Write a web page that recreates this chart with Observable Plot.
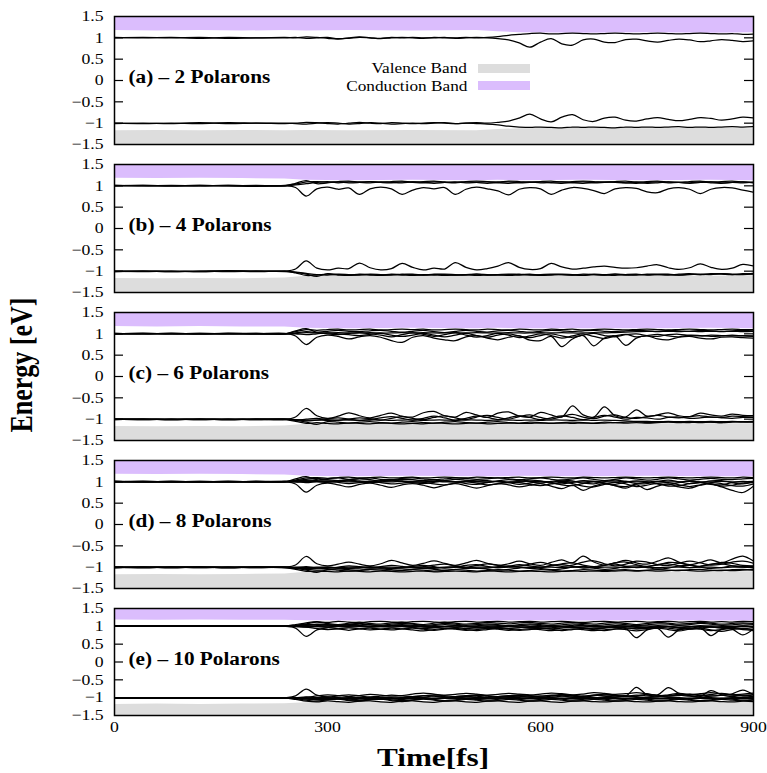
<!DOCTYPE html>
<html><head><meta charset="utf-8">
<script src="https://cdn.jsdelivr.net/npm/d3@7"></script>
<script src="https://cdn.jsdelivr.net/npm/@observablehq/plot@0.6"></script>
<style>
body{margin:0;background:#fff}
#chart{position:relative;width:767px;height:773px;font-family:"Liberation Serif","Times New Roman",serif;color:#000;overflow:hidden}
#chart svg{position:absolute;left:0}
.lbl{position:absolute;white-space:nowrap;line-height:1}
</style>
</head><body><div id="chart"></div>
<script>
// time grid (fs)
const T = [0,40,80,120,160,200,240,
 255,270,285,300,315,330,345,360,375,390,405,
 420,435,450,465,480,495,510,525,540,555,570,
 585,600,615,630,645,660,675,690,705,720,735,
 750,765,780,795,810,825,840,855,870,885,900];
const bandT = [0,60,120,180,240,270,330,420,510,540,570,660,750,840,900];
const yTicks = [-1.5,-1,-0.5,0,0.5,1,1.5];
const innerTicks = [-1,-0.5,0,0.5,1];
const xTicks = [0,300,600,900];
const panelLabels = ["(a) – 2 Polarons","(b) – 4 Polarons","(c) – 6 Polarons","(d) – 8 Polarons","(e) – 10 Polarons"];
const legendLabels = ["Valence Band","Conduction Band"];

// band edges
const cbmA=[1.17,1.16,1.17,1.16,1.17,1.16,1.17,1.16,1.17,1.14,1.12,1.11,1.12,1.11,1.12];
const vbmA=[-1.18,-1.17,-1.18,-1.17,-1.18,-1.17,-1.18,-1.17,-1.18,-1.15,-1.13,-1.12,-1.13,-1.12,-1.13];
const cbmB=[1.18,1.17,1.18,1.17,1.16,1.13,1.12,1.13,1.12,1.13,1.12,1.13,1.12,1.13,1.12];
const vbmB=[-1.17,-1.18,-1.17,-1.18,-1.16,-1.12,-1.11,-1.12,-1.11,-1.12,-1.11,-1.12,-1.11,-1.12,-1.11];
const cbmC=[1.17,1.16,1.17,1.16,1.16,1.13,1.12,1.13,1.12,1.13,1.12,1.12,1.12,1.13,1.12];
const vbmC=[-1.17,-1.18,-1.17,-1.18,-1.16,-1.12,-1.11,-1.11,-1.12,-1.11,-1.11,-1.12,-1.11,-1.11,-1.11];
const cbmD=[1.18,1.17,1.18,1.17,1.16,1.13,1.12,1.13,1.12,1.12,1.13,1.12,1.13,1.12,1.12];
const vbmD=[-1.18,-1.17,-1.18,-1.17,-1.16,-1.12,-1.12,-1.11,-1.12,-1.11,-1.12,-1.11,-1.12,-1.11,-1.11];
const cbmE=[1.18,1.17,1.18,1.17,1.17,1.16,1.15,1.16,1.15,1.15,1.16,1.15,1.16,1.15,1.15];
const vbmE=[-1.19,-1.18,-1.19,-1.18,-1.17,-1.14,-1.13,-1.13,-1.12,-1.13,-1.12,-1.12,-1.12,-1.13,-1.12];

// panel (a)
const a1=[1.01,1.00,1.01,0.99,1.01,1.00,1.01, 1.00,1.02,1.01,0.99,0.97,1.00,1.02,1.00,0.98,1.00,1.01, 1.00,0.99,1.01,1.00,1.00,1.01,1.00,1.01,1.03,1.06,1.08, 1.10,1.11,1.09,1.10,1.11,1.10,1.09,1.10,1.11,1.10,1.09, 1.10,1.11,1.10,1.09,1.10,1.11,1.10,1.09,1.10,1.08,1.09];
const a2=[1.00,1.01,1.00,1.01,0.99,1.00,1.00, 1.01,0.99,1.00,1.01,0.98,0.99,1.01,1.00,0.99,1.01,1.00, 1.01,1.00,1.00,1.01,0.99,1.00,1.01,1.00,0.98,0.95,0.88, 0.78,0.90,0.98,0.86,0.83,0.95,0.97,0.90,0.89,0.96,0.97, 0.93,0.90,0.94,0.97,0.95,0.91,0.93,0.96,0.94,0.91,0.93];
const a3=[-1.01,-1.00,-1.01,-0.99,-1.01,-1.00,-1.01, -1.00,-0.98,-0.99,-1.01,-1.02,-1.00,-0.98,-1.00,-1.01,-0.99,-1.00, -1.01,-1.00,-0.99,-1.00,-1.01,-1.00,-0.99,-1.00,-0.98,-0.95,-0.88, -0.79,-0.90,-0.97,-0.86,-0.80,-0.92,-0.96,-0.88,-0.86,-0.93,-0.95, -0.90,-0.87,-0.91,-0.94,-0.91,-0.87,-0.89,-0.93,-0.90,-0.86,-0.88];
const a4=[-1.00,-1.01,-1.00,-1.01,-0.99,-1.00,-1.00, -1.01,-1.02,-1.00,-0.99,-1.00,-1.02,-1.01,-0.99,-1.00,-1.02,-1.01, -1.00,-1.01,-1.00,-0.99,-1.01,-1.00,-1.01,-1.02,-1.04,-1.07,-1.09, -1.10,-1.09,-1.10,-1.11,-1.09,-1.10,-1.09,-1.10,-1.11,-1.09,-1.10, -1.09,-1.10,-1.09,-1.08,-1.10,-1.09,-1.10,-1.09,-1.08,-1.09,-1.08];

// panel (b)
const b1=[1.01,1.00,1.01,1.00,1.01,1.00,1.01, 1.04,1.09,1.10,1.08,1.10,1.11,1.09,1.10,1.08,1.10,1.11, 1.09,1.10,1.11,1.09,1.08,1.10,1.11,1.10,1.09,1.11,1.10, 1.08,1.10,1.11,1.09,1.10,1.11,1.10,1.08,1.10,1.11,1.09, 1.10,1.11,1.09,1.08,1.10,1.11,1.09,1.10,1.11,1.09,1.08];
const b2=[1.00,1.01,1.00,1.00,1.01,1.00,1.00, 1.06,1.12,1.05,1.07,1.09,1.07,1.08,1.10,1.08,1.07,1.09, 1.08,1.07,1.09,1.08,1.07,1.09,1.08,1.06,1.08,1.09,1.07, 1.08,1.09,1.07,1.06,1.08,1.09,1.07,1.08,1.09,1.07,1.06, 1.08,1.09,1.07,1.08,1.06,1.08,1.09,1.07,1.08,1.09,1.07];
const b3=[1.01,1.00,1.00,1.01,1.00,1.01,1.00, 1.02,1.05,1.08,1.10,1.07,1.09,1.08,1.07,1.09,1.08,1.07, 1.09,1.08,1.06,1.08,1.09,1.07,1.08,1.09,1.07,1.06,1.08, 1.09,1.07,1.08,1.09,1.07,1.06,1.08,1.09,1.08,1.07,1.08, 1.06,1.07,1.09,1.08,1.07,1.09,1.07,1.06,1.08,1.07,1.09];
const b4=[1.00,1.01,1.00,1.01,1.00,0.99,1.00, 0.96,0.76,0.93,0.97,0.92,0.95,0.80,0.93,0.97,0.93,0.80, 0.90,0.96,0.93,0.96,0.80,0.92,0.97,0.93,0.88,0.79,0.92, 0.96,0.93,0.80,0.90,0.96,0.94,0.89,0.82,0.93,0.96,0.94, 0.86,0.84,0.93,0.96,0.92,0.82,0.92,0.96,0.95,0.90,0.85];
const b5=[-1.01,-1.00,-1.01,-1.00,-0.99,-1.00,-1.00, -0.95,-0.76,-0.93,-0.97,-0.93,-0.94,-0.81,-0.92,-0.97,-0.94,-0.82, -0.91,-0.97,-0.93,-0.95,-0.80,-0.91,-0.97,-0.94,-0.88,-0.80,-0.91, -0.96,-0.94,-0.82,-0.90,-0.95,-0.93,-0.90,-0.88,-0.91,-0.93,-0.92, -0.88,-0.85,-0.92,-0.96,-0.92,-0.83,-0.91,-0.96,-0.93,-0.84,-0.88];
const b6=[-1.00,-1.01,-1.00,-1.01,-1.00,-1.01,-1.00, -1.04,-1.10,-1.09,-1.07,-1.09,-1.10,-1.08,-1.09,-1.10,-1.08,-1.09, -1.10,-1.08,-1.09,-1.10,-1.09,-1.08,-1.10,-1.09,-1.08,-1.10,-1.09, -1.08,-1.10,-1.09,-1.08,-1.09,-1.10,-1.08,-1.09,-1.10,-1.08,-1.07, -1.09,-1.08,-1.07,-1.09,-1.08,-1.07,-1.08,-1.06,-1.07,-1.08,-1.06];
const b7=[-1.01,-1.00,-1.00,-1.01,-1.00,-1.00,-1.01, -1.03,-1.07,-1.12,-1.06,-1.08,-1.09,-1.07,-1.08,-1.09,-1.07,-1.08, -1.07,-1.09,-1.08,-1.07,-1.08,-1.09,-1.07,-1.08,-1.09,-1.08,-1.07, -1.09,-1.08,-1.07,-1.08,-1.09,-1.07,-1.08,-1.09,-1.07,-1.08,-1.09, -1.07,-1.08,-1.09,-1.07,-1.06,-1.08,-1.07,-1.06,-1.08,-1.07,-1.05];
const b8=[-1.00,-1.00,-1.01,-1.00,-1.01,-1.00,-1.00, -1.02,-1.05,-1.08,-1.09,-1.07,-1.08,-1.09,-1.07,-1.08,-1.09,-1.07, -1.08,-1.09,-1.07,-1.08,-1.09,-1.08,-1.07,-1.09,-1.08,-1.07,-1.08, -1.07,-1.09,-1.08,-1.07,-1.08,-1.09,-1.07,-1.08,-1.07,-1.09,-1.08, -1.08,-1.07,-1.08,-1.09,-1.07,-1.08,-1.06,-1.07,-1.08,-1.06,-1.07];

// panel (c)
const c1=[1.01,1.00,1.01,1.00,1.01,1.01,1.00, 1.05,1.10,1.08,1.10,1.11,1.09,1.10,1.11,1.09,1.10,1.11, 1.10,1.11,1.09,1.10,1.11,1.10,1.09,1.11,1.10,1.09,1.11, 1.10,1.09,1.11,1.10,1.11,1.09,1.10,1.11,1.10,1.09,1.10, 1.11,1.10,1.09,1.10,1.11,1.10,1.09,1.10,1.11,1.10,1.10];
const c2=[1.00,1.01,1.00,1.01,1.00,1.00,1.00, 1.07,1.12,1.04,1.06,1.08,1.06,1.05,1.07,1.08,1.06,1.04, 1.06,1.08,1.05,1.03,1.06,1.08,1.06,1.04,1.07,1.08,1.06, 1.04,1.06,1.08,1.07,1.05,1.07,1.08,1.06,1.05,1.07,1.08, 1.07,1.06,1.08,1.07,1.06,1.08,1.07,1.06,1.07,1.08,1.07];
const c3=[1.00,1.01,1.00,1.00,1.01,1.00,1.00, 1.01,1.03,1.02,1.02,1.03,1.02,1.02,1.03,1.02,1.02,1.03, 1.02,1.03,1.02,1.02,1.03,1.02,1.03,1.02,1.02,1.03,1.02, 1.02,1.03,1.02,1.03,1.02,1.02,1.03,1.02,1.03,1.04,1.05, 1.06,1.05,1.06,1.05,1.06,1.05,1.06,1.05,1.06,1.05,1.06];
const c4=[1.01,1.00,1.01,1.00,1.01,1.00,1.00, 1.02,1.05,1.03,1.00,0.98,1.01,1.03,1.00,0.97,0.93,0.98, 1.02,0.99,0.94,0.98,1.02,0.97,0.92,0.96,1.01,0.97,0.91, 0.95,1.00,0.96,0.90,0.95,1.00,0.94,0.89,0.95,0.99,0.93, 0.96,0.99,0.95,0.93,0.97,0.96,0.94,0.95,0.97,0.95,0.94];
const c5=[1.00,1.00,1.01,1.00,1.00,1.01,1.00, 1.00,0.98,1.00,1.02,1.00,0.98,0.96,0.99,1.01,0.97,0.94, 0.97,1.01,0.97,0.93,0.97,1.01,0.96,0.92,0.97,1.00,0.95, 0.91,0.96,1.00,0.95,0.92,0.97,1.01,0.96,0.93,0.98,1.00, 0.96,0.94,0.98,0.99,0.96,0.95,0.97,0.96,0.95,0.96,0.95];
const c6=[1.00,1.01,1.00,1.01,1.00,1.00,1.01, 0.95,0.75,0.92,0.97,0.94,0.88,0.93,0.96,0.92,0.84,0.80, 0.92,0.96,0.90,0.86,0.84,0.93,0.96,0.90,0.86,0.92,0.95, 0.85,0.84,0.94,0.70,0.88,0.96,0.72,0.90,0.95,0.73,0.90, 0.95,0.88,0.86,0.92,0.94,0.90,0.88,0.92,0.93,0.91,0.90];
const c7=[-1.00,-1.01,-1.00,-1.01,-1.00,-1.00,-1.01, -0.95,-0.75,-0.92,-0.98,-0.93,-0.85,-0.92,-0.97,-0.91,-0.86,-0.93, -0.95,-0.85,-0.82,-0.92,-0.95,-0.84,-0.90,-0.96,-0.86,-0.83,-0.93, -0.95,-0.84,-0.90,-0.95,-0.69,-0.90,-0.95,-0.71,-0.92,-0.95,-0.78, -0.93,-0.90,-0.85,-0.92,-0.94,-0.86,-0.90,-0.93,-0.88,-0.91,-0.92];
const c8=[-1.01,-1.00,-1.01,-1.00,-1.01,-1.00,-1.00, -1.02,-1.00,-0.98,-1.01,-1.03,-1.00,-0.97,-0.99,-1.02,-0.98,-0.94, -0.98,-1.01,-0.96,-0.92,-0.97,-1.01,-0.95,-0.91,-0.96,-1.00,-0.94, -0.90,-0.96,-1.00,-0.94,-0.89,-0.95,-0.99,-0.93,-0.90,-0.96,-0.98, -0.94,-0.91,-0.95,-0.97,-0.94,-0.92,-0.95,-0.96,-0.93,-0.94,-0.95];
const c9=[-1.00,-1.00,-1.01,-1.00,-1.00,-1.01,-1.00, -1.01,-1.04,-1.02,-0.99,-0.97,-1.00,-1.03,-1.01,-0.97,-0.94,-0.98, -1.02,-0.98,-0.93,-0.97,-1.02,-0.98,-0.93,-0.96,-1.01,-0.97,-0.92, -0.96,-1.01,-0.97,-0.92,-0.96,-1.01,-0.96,-0.91,-0.95,-1.00,-0.96, -0.97,-1.00,-0.96,-0.95,-0.98,-0.97,-0.95,-0.97,-0.98,-0.96,-0.96];
const c10=[-1.00,-1.01,-1.00,-1.00,-1.01,-1.00,-1.00, -1.01,-1.02,-1.02,-1.03,-1.02,-1.02,-1.03,-1.02,-1.02,-1.03,-1.02, -1.02,-1.03,-1.02,-1.02,-1.03,-1.02,-1.02,-1.03,-1.02,-1.02,-1.03, -1.02,-1.03,-1.02,-1.02,-1.03,-1.02,-1.03,-1.02,-1.03,-1.04,-1.05, -1.05,-1.06,-1.05,-1.06,-1.05,-1.06,-1.05,-1.06,-1.05,-1.06,-1.05];
const c11=[-1.01,-1.00,-1.01,-1.00,-1.01,-1.00,-1.01, -1.05,-1.10,-1.08,-1.10,-1.11,-1.09,-1.10,-1.11,-1.09,-1.10,-1.11, -1.10,-1.11,-1.09,-1.10,-1.11,-1.10,-1.09,-1.11,-1.10,-1.09,-1.10, -1.10,-1.09,-1.10,-1.09,-1.10,-1.09,-1.10,-1.09,-1.08,-1.09,-1.08, -1.09,-1.08,-1.07,-1.08,-1.07,-1.08,-1.07,-1.08,-1.07,-1.06,-1.07];
const c12=[-1.00,-1.00,-1.00,-1.01,-1.00,-1.01,-1.00, -1.03,-1.07,-1.12,-1.06,-1.07,-1.09,-1.07,-1.06,-1.08,-1.09,-1.07, -1.06,-1.08,-1.09,-1.07,-1.06,-1.08,-1.09,-1.07,-1.06,-1.08,-1.09, -1.07,-1.08,-1.09,-1.08,-1.07,-1.08,-1.09,-1.07,-1.08,-1.07,-1.06, -1.08,-1.07,-1.06,-1.07,-1.08,-1.06,-1.07,-1.08,-1.06,-1.07,-1.06];

// panel (d)
const d1=[1.01,1.00,1.01,1.00,1.00,1.01,1.00, 1.04,1.09,1.10,1.08,1.10,1.11,1.09,1.10,1.11,1.09,1.10, 1.11,1.09,1.10,1.11,1.10,1.09,1.11,1.10,1.09,1.10,1.11, 1.09,1.10,1.11,1.10,1.09,1.11,1.10,1.09,1.10,1.11,1.10, 1.09,1.10,1.11,1.10,1.09,1.10,1.11,1.10,1.09,1.11,1.10];
const d2=[1.00,1.01,1.00,1.00,1.01,1.00,1.00, 1.07,1.12,1.05,1.07,1.09,1.06,1.08,1.09,1.06,1.05,1.08, 1.09,1.07,1.05,1.07,1.09,1.08,1.06,1.07,1.09,1.07,1.05, 1.07,1.09,1.06,1.04,1.07,1.09,1.06,1.03,1.06,1.09,1.07, 1.04,1.06,1.09,1.07,1.04,1.06,1.08,1.06,1.05,1.07,1.08];
const d3=[1.01,1.00,1.00,1.01,1.00,1.00,1.01, 1.00,1.01,1.00,1.00,1.01,1.00,1.00,1.01,1.00,1.00,1.01, 1.00,1.00,1.01,1.00,1.00,1.01,1.00,1.00,1.01,1.00,1.00, 1.01,1.00,1.00,1.01,1.00,1.00,1.01,1.00,1.00,1.01,1.00, 1.00,1.01,1.00,1.00,1.01,1.00,1.00,1.01,1.00,1.00,1.01];
const d4=[1.00,1.00,1.01,1.00,1.01,1.00,1.00, 1.02,1.04,1.03,1.01,1.03,1.04,1.02,1.01,1.03,1.04,1.02, 1.01,1.03,1.04,1.02,1.00,1.02,1.04,1.03,1.00,0.98,1.01, 1.04,1.02,0.97,0.95,0.99,1.03,1.01,0.96,0.94,0.99,1.02, 1.00,0.95,0.93,0.98,1.02,0.99,0.94,0.93,0.98,1.01,0.99];
const d5=[1.00,1.01,1.00,1.01,1.00,1.01,1.00, 0.95,0.76,0.92,0.97,0.93,0.88,0.94,0.97,0.92,0.87,0.93, 0.96,0.92,0.86,0.92,0.96,0.91,0.85,0.91,0.96,0.93,0.88, 0.92,0.96,0.90,0.84,0.92,0.80,0.90,0.96,0.91,0.85,0.93, 0.82,0.90,0.95,0.88,0.85,0.92,0.95,0.88,0.80,0.75,0.90];
const d6=[1.01,1.00,1.00,1.00,1.01,1.00,1.01, 1.00,0.98,1.01,1.02,0.99,0.96,0.98,1.01,0.98,0.95,0.97, 1.00,0.99,0.95,0.93,0.97,1.00,0.97,0.93,0.95,0.99,0.98, 0.94,0.91,0.95,0.99,0.96,0.90,0.88,0.94,0.99,0.95,0.89, 0.92,0.97,0.98,0.93,0.89,0.93,0.98,0.96,0.91,0.90,0.95];
const d7=[1.00,1.01,1.00,1.00,1.00,1.01,1.00, 1.01,1.03,1.01,0.99,1.01,1.02,1.00,0.98,1.00,1.02,1.01, 0.98,0.96,0.99,1.02,1.00,0.96,0.94,0.98,1.01,0.98,0.94, 0.97,1.01,0.99,0.93,0.91,0.96,1.00,0.97,0.91,0.89,0.95, 0.99,0.96,0.90,0.91,0.96,0.99,0.95,0.90,0.92,0.97,0.98];
const d8=[1.01,1.00,1.01,1.00,1.00,1.00,1.01, 1.03,1.06,1.08,1.05,1.03,1.05,1.07,1.05,1.02,1.04,1.06, 1.05,1.02,1.00,1.03,1.06,1.04,1.01,0.99,1.02,1.05,1.03, 1.00,0.97,1.01,1.04,1.02,0.97,0.95,1.00,1.04,1.01,0.96, 0.96,1.01,1.04,1.00,0.96,0.98,1.02,1.03,0.98,0.95,1.00];
const d9=[-1.01,-1.00,-1.01,-1.00,-1.01,-1.00,-1.00, -0.95,-0.75,-0.92,-0.97,-0.93,-0.88,-0.93,-0.97,-0.92,-0.84,-0.90, -0.96,-0.91,-0.85,-0.91,-0.96,-0.90,-0.84,-0.91,-0.96,-0.92,-0.86, -0.92,-0.96,-0.89,-0.83,-0.90,-0.74,-0.88,-0.95,-0.90,-0.84,-0.90, -0.93,-0.86,-0.78,-0.88,-0.94,-0.89,-0.83,-0.90,-0.81,-0.74,-0.86];
const d10=[-1.00,-1.01,-1.00,-1.00,-1.01,-1.00,-1.00, -1.01,-0.99,-1.02,-1.03,-1.00,-0.97,-0.99,-1.02,-0.99,-0.96,-0.98, -1.01,-0.99,-0.95,-0.93,-0.97,-1.00,-0.96,-0.92,-0.95,-0.99,-0.97, -0.93,-0.89,-0.94,-0.98,-0.95,-0.88,-0.85,-0.92,-0.97,-0.93,-0.86, -0.88,-0.94,-0.96,-0.91,-0.86,-0.90,-0.95,-0.93,-0.88,-0.86,-0.91];
const d11=[-1.01,-1.00,-1.00,-1.01,-1.00,-1.00,-1.01, -1.02,-1.04,-1.02,-1.00,-1.02,-1.03,-1.01,-0.99,-1.01,-1.03,-1.01, -0.98,-0.96,-0.99,-1.02,-1.00,-0.96,-0.94,-0.98,-1.01,-0.98,-0.94, -0.97,-1.00,-0.97,-0.92,-0.90,-0.95,-0.99,-0.96,-0.90,-0.88,-0.94, -0.98,-0.95,-0.89,-0.90,-0.95,-0.98,-0.94,-0.89,-0.91,-0.96,-0.97];
const d12=[-1.00,-1.00,-1.01,-1.00,-1.00,-1.01,-1.00, -1.00,-1.01,-1.00,-1.00,-1.01,-1.00,-1.00,-1.01,-1.00,-1.00,-1.01, -1.00,-1.00,-1.01,-1.00,-1.00,-1.01,-1.00,-1.00,-1.01,-1.00,-1.00, -1.01,-1.00,-1.00,-1.01,-1.00,-1.00,-1.01,-1.00,-1.00,-1.01,-1.00, -1.00,-1.01,-1.00,-1.00,-1.01,-1.00,-1.00,-1.01,-1.00,-1.00,-1.01];
const d13=[-1.00,-1.01,-1.00,-1.01,-1.00,-1.00,-1.00, -1.02,-1.03,-1.02,-1.01,-1.02,-1.03,-1.02,-1.01,-1.02,-1.03,-1.02, -1.01,-1.02,-1.03,-1.01,-0.99,-1.01,-1.03,-1.02,-0.99,-0.97,-1.00, -1.03,-1.01,-0.96,-0.94,-0.98,-1.02,-1.00,-0.95,-0.93,-0.98,-1.01, -0.99,-0.94,-0.92,-0.97,-1.01,-0.98,-0.93,-0.92,-0.97,-1.00,-0.98];
const d14=[-1.01,-1.00,-1.01,-1.00,-1.01,-1.00,-1.01, -1.05,-1.10,-1.09,-1.10,-1.11,-1.09,-1.10,-1.11,-1.09,-1.10,-1.11, -1.10,-1.09,-1.11,-1.10,-1.09,-1.10,-1.11,-1.09,-1.10,-1.11,-1.10, -1.09,-1.10,-1.11,-1.10,-1.09,-1.10,-1.09,-1.10,-1.09,-1.08,-1.09, -1.08,-1.09,-1.08,-1.07,-1.08,-1.09,-1.08,-1.07,-1.08,-1.07,-1.06];
const d15=[-1.00,-1.01,-1.00,-1.00,-1.00,-1.01,-1.00, -1.03,-1.07,-1.12,-1.06,-1.07,-1.09,-1.08,-1.06,-1.07,-1.09,-1.08, -1.06,-1.07,-1.09,-1.08,-1.06,-1.07,-1.09,-1.08,-1.06,-1.07,-1.09, -1.08,-1.06,-1.07,-1.09,-1.08,-1.06,-1.07,-1.08,-1.07,-1.06,-1.08, -1.07,-1.06,-1.07,-1.08,-1.06,-1.05,-1.07,-1.08,-1.06,-1.05,-1.07];
const d16=[-1.01,-1.00,-1.00,-1.00,-1.01,-1.00,-1.01, -1.02,-1.05,-1.07,-1.06,-1.04,-1.06,-1.07,-1.05,-1.04,-1.06,-1.07, -1.05,-1.03,-1.05,-1.07,-1.05,-1.03,-1.02,-1.05,-1.07,-1.05,-1.02, -1.00,-1.03,-1.06,-1.04,-1.00,-0.98,-1.02,-1.05,-1.03,-0.98,-0.97, -1.01,-1.04,-1.02,-0.97,-0.96,-1.00,-1.03,-1.01,-0.97,-0.98,-1.02];

// panel (e)
const e1=[1.00,1.01,1.00,1.01,1.00,1.00,1.01, 1.05,1.10,1.13,1.11,1.14,1.12,1.10,1.13,1.14,1.12,1.11, 1.13,1.14,1.12,1.11,1.13,1.14,1.12,1.13,1.14,1.12,1.13, 1.14,1.12,1.13,1.14,1.12,1.11,1.13,1.14,1.12,1.13,1.14, 1.12,1.13,1.14,1.12,1.13,1.14,1.12,1.13,1.12,1.14,1.13];
const e2=[1.01,1.00,1.00,1.01,1.00,1.01,1.00, 1.03,1.07,1.12,1.08,1.05,1.09,1.12,1.08,1.06,1.10,1.12, 1.08,1.05,1.09,1.12,1.09,1.06,1.08,1.11,1.09,1.07,1.10, 1.11,1.08,1.06,1.09,1.11,1.08,1.06,1.09,1.11,1.08,1.05, 1.08,1.11,1.09,1.06,1.08,1.11,1.09,1.06,1.08,1.10,1.08];
const e3=[1.00,1.00,1.01,1.00,1.01,1.00,1.00, 1.02,1.04,1.06,1.05,1.03,1.06,1.08,1.05,1.03,1.06,1.08, 1.06,1.03,1.05,1.08,1.06,1.03,1.05,1.07,1.05,1.02,1.05, 1.07,1.05,1.02,1.04,1.07,1.05,1.02,1.04,1.07,1.05,1.02, 1.04,1.07,1.06,1.03,1.05,1.08,1.06,1.03,1.04,1.07,1.05];
const e4=[1.00,1.01,1.00,1.00,1.01,1.00,1.00, 1.01,1.00,1.00,1.01,1.00,1.00,1.01,1.00,1.00,1.01,1.00, 1.00,1.01,1.00,1.00,1.01,1.00,1.00,1.01,1.00,1.00,1.01, 1.00,1.00,1.01,1.00,1.00,1.01,1.00,1.00,1.01,1.00,1.00, 1.01,1.00,1.00,1.01,1.00,1.00,1.01,1.00,1.00,1.01,1.00];
const e5=[1.01,1.00,1.00,1.00,1.00,1.01,1.00, 0.99,0.98,0.99,0.98,0.99,0.98,0.99,0.98,0.99,0.98,0.99, 0.98,0.99,0.98,0.99,0.98,0.99,0.98,0.97,0.98,0.99,0.98, 0.97,0.98,0.99,0.98,0.97,0.98,0.99,0.98,0.97,0.99,0.98, 0.97,0.98,0.99,0.97,0.98,0.99,0.98,0.97,0.98,0.99,0.98];
const e6=[1.00,1.01,1.00,1.01,1.00,1.00,1.00, 0.95,0.72,0.90,0.96,0.93,0.89,0.93,0.95,0.92,0.90,0.93, 0.95,0.92,0.89,0.92,0.94,0.91,0.88,0.91,0.94,0.92,0.89, 0.91,0.94,0.92,0.88,0.91,0.94,0.91,0.88,0.92,0.94,0.68, 0.90,0.95,0.91,0.87,0.92,0.95,0.90,0.86,0.91,0.94,0.90];
const e7=[1.01,1.00,1.01,1.00,1.00,1.00,1.01, 1.00,0.98,0.94,0.91,0.93,0.96,0.93,0.90,0.92,0.95,0.93, 0.90,0.87,0.91,0.94,0.92,0.89,0.91,0.94,0.92,0.89,0.91, 0.93,0.91,0.88,0.90,0.93,0.91,0.88,0.90,0.93,0.91,0.87, 0.91,0.94,0.70,0.90,0.95,0.92,0.88,0.91,0.94,0.91,0.88];
const e8=[1.00,1.00,1.01,1.00,1.01,1.00,1.00, 1.01,1.02,1.00,0.98,1.00,1.02,1.01,0.99,1.00,1.02,1.00, 0.97,0.94,0.96,0.99,0.97,0.94,0.96,0.99,0.97,0.94,0.96, 0.98,0.96,0.93,0.95,0.98,0.96,0.93,0.95,0.98,0.96,0.93, 0.95,0.98,0.95,0.91,0.94,0.97,0.74,0.92,0.97,0.93,0.92];
const e9=[1.01,1.00,1.00,1.01,1.00,1.01,1.00, 1.02,1.05,1.03,1.01,1.03,1.05,1.03,1.00,0.99,1.01,1.03, 1.01,0.98,0.97,0.99,1.01,0.99,0.96,0.95,0.97,1.00,0.98, 0.95,0.94,0.96,0.99,0.97,0.94,0.93,0.96,0.99,0.96,0.93, 0.94,0.97,0.99,0.95,0.92,0.95,0.98,0.96,0.92,0.76,0.93];
const e10=[1.00,1.01,1.00,1.00,1.01,1.00,1.00, 1.01,1.03,1.05,1.04,1.02,1.04,1.06,1.04,1.01,1.03,1.05, 1.03,1.00,1.02,1.05,1.03,1.00,1.01,1.04,1.03,1.00,1.01, 1.04,1.02,0.99,1.00,1.03,1.02,0.98,0.99,1.02,1.01,0.97, 0.98,1.02,1.00,0.96,0.99,1.02,0.99,0.95,0.98,1.01,0.97];
const e11=[-1.01,-1.00,-1.01,-1.00,-1.00,-1.01,-1.00, -0.95,-0.76,-0.93,-0.98,-0.95,-0.92,-0.95,-0.98,-0.96,-0.93,-0.95, -0.97,-0.95,-0.92,-0.94,-0.97,-0.95,-0.92,-0.94,-0.97,-0.95,-0.92, -0.94,-0.96,-0.94,-0.91,-0.93,-0.96,-0.93,-0.90,-0.93,-0.96,-0.71, -0.92,-0.95,-0.92,-0.88,-0.91,-0.94,-0.91,-0.88,-0.92,-0.95,-0.92];
const e12=[-1.00,-1.01,-1.00,-1.00,-1.01,-1.00,-1.01, -1.01,-0.99,-0.95,-0.92,-0.94,-0.97,-0.94,-0.91,-0.93,-0.96,-0.94, -0.90,-0.87,-0.90,-0.93,-0.91,-0.88,-0.90,-0.93,-0.91,-0.88,-0.90, -0.92,-0.90,-0.87,-0.89,-0.92,-0.90,-0.86,-0.88,-0.91,-0.89,-0.86, -0.89,-0.92,-0.72,-0.88,-0.92,-0.89,-0.86,-0.89,-0.92,-0.90,-0.87];
const e13=[-1.00,-1.00,-1.01,-1.00,-1.01,-1.00,-1.00, -1.01,-1.02,-1.00,-0.98,-1.00,-1.02,-1.01,-0.99,-1.00,-1.02,-1.00, -0.97,-0.94,-0.96,-0.99,-0.97,-0.94,-0.96,-0.99,-0.97,-0.94,-0.96, -0.98,-0.96,-0.93,-0.95,-0.98,-0.96,-0.93,-0.95,-0.98,-0.96,-0.93, -0.95,-0.98,-0.95,-0.91,-0.94,-0.97,-0.80,-0.92,-0.97,-0.93,-0.92];
const e14=[-1.00,-1.01,-1.00,-1.00,-1.01,-1.00,-1.00, -1.01,-1.02,-1.02,-1.03,-1.02,-1.02,-1.03,-1.02,-1.02,-1.03,-1.02, -1.02,-1.03,-1.02,-1.02,-1.03,-1.02,-1.02,-1.03,-1.02,-1.02,-1.03, -1.02,-1.03,-1.02,-1.02,-1.03,-1.02,-1.03,-1.02,-1.02,-1.03,-1.02, -1.02,-1.03,-1.02,-1.03,-1.02,-1.02,-1.03,-1.02,-1.02,-1.03,-1.02];
const e15=[-1.01,-1.00,-1.00,-1.01,-1.00,-1.00,-1.01, -1.00,-1.01,-1.00,-1.00,-1.01,-1.00,-1.00,-1.01,-1.00,-1.00,-1.01, -1.00,-1.00,-1.01,-1.00,-1.00,-1.01,-1.00,-1.00,-1.01,-1.00,-1.00, -1.01,-1.00,-1.00,-1.01,-1.00,-1.00,-1.01,-1.00,-1.00,-1.01,-1.00, -1.00,-1.01,-1.00,-1.00,-1.01,-1.00,-1.00,-1.01,-1.00,-1.00,-1.01];
const e16=[-1.00,-1.01,-1.00,-1.01,-1.00,-1.00,-1.01, -1.05,-1.10,-1.12,-1.09,-1.11,-1.13,-1.10,-1.09,-1.12,-1.13,-1.10, -1.09,-1.12,-1.13,-1.10,-1.09,-1.12,-1.13,-1.10,-1.09,-1.12,-1.13, -1.10,-1.09,-1.12,-1.13,-1.10,-1.09,-1.11,-1.12,-1.10,-1.09,-1.11, -1.12,-1.10,-1.09,-1.11,-1.12,-1.10,-1.09,-1.11,-1.12,-1.10,-1.11];
const e17=[-1.01,-1.00,-1.01,-1.00,-1.01,-1.00,-1.00, -1.03,-1.07,-1.10,-1.06,-1.04,-1.08,-1.10,-1.06,-1.04,-1.08,-1.11, -1.07,-1.04,-1.07,-1.10,-1.08,-1.05,-1.07,-1.10,-1.08,-1.05,-1.07, -1.10,-1.08,-1.05,-1.07,-1.10,-1.08,-1.05,-1.07,-1.10,-1.08,-1.05, -1.07,-1.10,-1.08,-1.05,-1.07,-1.10,-1.08,-1.05,-1.07,-1.09,-1.07];
const e18=[-1.00,-1.00,-1.00,-1.01,-1.00,-1.01,-1.00, -1.02,-1.04,-1.06,-1.05,-1.03,-1.06,-1.08,-1.05,-1.03,-1.06,-1.08, -1.06,-1.03,-1.05,-1.08,-1.06,-1.03,-1.05,-1.07,-1.05,-1.02,-1.05, -1.07,-1.05,-1.02,-1.04,-1.07,-1.05,-1.02,-1.04,-1.07,-1.05,-1.02, -1.04,-1.07,-1.06,-1.03,-1.05,-1.08,-1.06,-1.03,-1.04,-1.07,-1.05];
const e19=[-1.01,-1.00,-1.00,-1.00,-1.01,-1.00,-1.01, -1.01,-1.03,-1.05,-1.04,-1.02,-1.04,-1.06,-1.04,-1.01,-1.03,-1.05, -1.03,-0.99,-0.95,-0.97,-1.00,-0.98,-0.94,-0.96,-0.99,-0.97,-0.94, -0.96,-0.99,-0.96,-0.93,-0.95,-0.98,-0.95,-0.92,-0.94,-0.97,-0.95, -0.91,-0.93,-0.96,-0.94,-0.90,-0.92,-0.95,-0.93,-0.89,-0.79,-0.92];
const e20=[-1.00,-1.01,-1.00,-1.01,-1.00,-1.00,-1.00, -1.00,-0.98,-1.00,-1.02,-1.04,-1.02,-1.00,-1.03,-1.05,-1.03,-1.00, -0.98,-1.00,-1.03,-1.01,-0.98,-0.97,-1.00,-1.02,-1.00,-0.97,-0.96, -0.99,-1.01,-0.99,-0.96,-0.95,-0.98,-1.00,-0.98,-0.95,-0.94,-0.97, -0.99,-0.97,-0.94,-0.93,-0.96,-0.98,-0.96,-0.93,-0.92,-0.95,-0.97];

const panels = [
  {label: panelLabels[0], lines: [a1,a2,a3,a4], cbm: cbmA, vbm: vbmA, top: 16, h: 128},
  {label: panelLabels[1], lines: [b1,b2,b3,b4,b5,b6,b7,b8], cbm: cbmB, vbm: vbmB, top: 164, h: 128},
  {label: panelLabels[2], lines: [c1,c2,c3,c4,c5,c6,c7,c8,c9,c10,c11,c12], cbm: cbmC, vbm: vbmC, top: 312, h: 128},
  {label: panelLabels[3], lines: [d1,d2,d3,d4,d5,d6,d7,d8,d9,d10,d11,d12,d13,d14,d15,d16], cbm: cbmD, vbm: vbmD, top: 460, h: 128},
  {label: panelLabels[4], lines: [e1,e2,e3,e4,e5,e6,e7,e8,e9,e10,e11,e12,e13,e14,e15,e16,e17,e18,e19,e20], cbm: cbmE, vbm: vbmE, top: 608, h: 107}
];

const PURPLE = "#dbbdfd", GRAY = "#dddddd";
const FONT = "'Liberation Serif','Times New Roman',serif";
const W = 767, ML = 114, MR = 14;
const plotW = W - ML - MR;
const yDom = [Math.min(...yTicks), Math.max(...yTicks)];
const xDom = [Math.min(...xTicks), Math.max(...xTicks)];
const fmtY = d => (d < 0 ? "\u2212" : "") + Math.abs(d);
const chart = document.getElementById("chart");

function stretch(svg, f) {
  svg.querySelectorAll("text").forEach(t => {
    if (t.querySelector("tspan")) return;
    const L = t.getComputedTextLength();
    if (L > 0) {
      t.setAttribute("textLength", (L * f).toFixed(2));
      t.setAttribute("lengthAdjust", "spacingAndGlyphs");
    }
  });
}

panels.forEach((p, i) => {
  const last = i === panels.length - 1;
  const mt = 10, mb = last ? 30 : 10;
  const rows = p.lines.flatMap((vals, k) => T.map((t, j) => ({t, e: vals[j], k})));
  const band = bandT.map((t, j) => ({t, c: p.cbm[j], v: p.vbm[j]}));
  const svg = Plot.plot({
    width: W, height: p.h + mt + mb,
    marginLeft: ML, marginRight: MR, marginTop: mt, marginBottom: mb,
    style: {fontFamily: FONT, fontSize: "15px", color: "#000", background: "transparent", overflow: "visible"},
    x: last
      ? {domain: xDom, ticks: xTicks, tickSize: 0, tickPadding: 6, tickFormat: d => String(d), label: null}
      : {domain: xDom, axis: null},
    y: {domain: yDom, ticks: yTicks, tickSize: 0, tickPadding: 11, tickFormat: fmtY, label: null},
    marks: [
      Plot.areaY(band, {x: "t", y1: "c", y2: () => yDom[1], fill: PURPLE, clip: true}),
      Plot.areaY(band, {x: "t", y1: () => yDom[0], y2: "v", fill: GRAY, clip: true}),
      Plot.line(rows, {x: "t", y: "e", z: "k", stroke: "#000", strokeWidth: 1.25, curve: "catmull-rom", clip: true}),
      Plot.tickY(innerTicks, {y: d => d, insetRight: plotW - 9, stroke: "#000", strokeWidth: 1.2}),
      Plot.tickY(innerTicks, {y: d => d, insetLeft: plotW - 9, stroke: "#000", strokeWidth: 1.2}),
      Plot.frame({stroke: "#000", strokeWidth: 1.5}),
      Plot.text([p.label], {text: d => d, frameAnchor: "left", textAnchor: "start", dx: 14, dy: -3,
        fontWeight: "bold", fontSize: 18, fontFamily: FONT, fill: "#000"})
    ]
  });
  svg.style.top = (p.top - mt) + "px";
  chart.appendChild(svg);
  stretch(svg, 1.18);
});

// legend (panel a)
function addLabel(txt, css) {
  const d = document.createElement("div");
  d.className = "lbl";
  d.textContent = txt;
  Object.assign(d.style, css);
  chart.appendChild(d);
  return d;
}
addLabel(legendLabels[0], {right: (W - 467) + "px", top: "61px", fontSize: "15px", transform: "scaleX(1.15)", transformOrigin: "right center"});
addLabel(legendLabels[1], {right: (W - 467) + "px", top: "78.5px", fontSize: "15px", transform: "scaleX(1.15)", transformOrigin: "right center"});
const sw1 = document.createElement("div");
Object.assign(sw1.style, {position: "absolute", left: "478px", top: "64px", width: "52px", height: "9px", background: GRAY});
const sw2 = document.createElement("div");
Object.assign(sw2.style, {position: "absolute", left: "478px", top: "81px", width: "52px", height: "9px", background: PURPLE});
chart.appendChild(sw1); chart.appendChild(sw2);

// axis titles
addLabel("Energy [eV]", {left: "22px", top: "365px", fontSize: "26px", fontWeight: "bold",
  transform: "translate(-50%,-50%) rotate(-90deg) scaleY(1.2)"});
addLabel("Time[fs]", {left: "433px", top: "758px", fontSize: "26px", fontWeight: "bold",
  transform: "translate(-50%,-50%) scaleX(1.2)"});
</script>
</body></html>
